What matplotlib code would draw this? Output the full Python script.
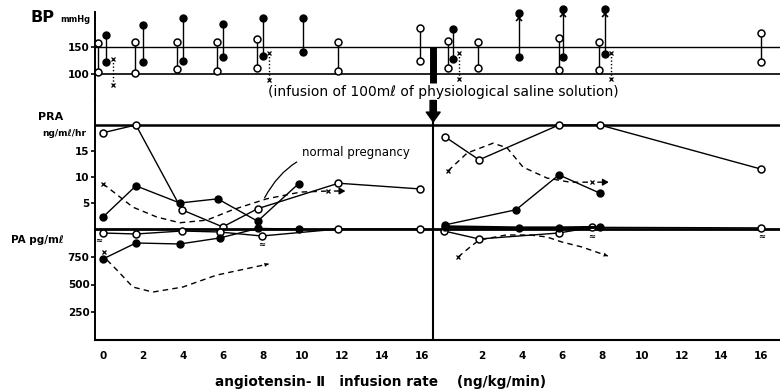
'''
Recreation of a scanned figure: BP, PRA and PA during angiotensin-II infusion,
before and after a saline infusion.
'''

import matplotlib
matplotlib.use('Agg')
import matplotlib.pyplot as plt

## the post-saline segment is drawn on the same x axis, shifted right
RIGHT_OFFSET = 17.0
DIVIDER      = 16.55

## ---------------- BP (mmHg): upper / lower reading per step ----------------
bp_open_l_x   = [-0.25, 1.6, 3.7, 5.7, 7.7, 11.8, 15.9]
bp_open_l_hi  = [157, 159, 159, 159, 165, 159, 185]
bp_open_l_lo  = [104, 102, 109, 106, 111, 106, 124]
bp_fill_l_x   = [0.15, 2.0, 4.0, 6.0, 8.0, 10.0]
bp_fill_l_hi  = [172, 191, 204, 193, 204, 204]
bp_fill_l_lo  = [122, 122, 124, 131, 133, 141]
bp_cross_l_x  = [0.5, 8.3]
bp_cross_l_hi = [128, 139]
bp_cross_l_lo = [80, 89]

bp_open_r_x   = [0.3, 1.8, 5.85, 7.85, 16.0]
bp_open_r_hi  = [161, 159, 167, 159, 176]
bp_open_r_lo  = [111, 111, 107, 107, 122]
bp_fill_r_x   = [0.55, 3.85, 6.05, 8.15]
bp_fill_r_hi  = [183, 213, 220, 220]
bp_fill_r_lo  = [128, 131, 131, 137]
bp_cross_r_x  = [0.85, 8.45]
bp_cross_r_hi = [139, 139]
bp_cross_r_lo = [90, 90]

## ---------------- PRA (ng/ml/hr) ----------------
pra_open_l_x  = [0.0, 1.65, 3.95, 6.0, 7.75, 11.8, 15.9]
pra_open_l_y  = [18.5, 20.0, 3.7, 0.4, 3.9, 8.8, 7.7]
pra_fill_l_x  = [0.0, 1.65, 3.85, 5.75, 7.75, 9.8]
pra_fill_l_y  = [2.3, 8.3, 5.0, 5.8, 1.5, 8.7]
pra_dash_l_x  = [0.0, 1.5, 2.7, 3.85, 5.2, 6.5, 8.2, 9.9, 11.3]
pra_dash_l_y  = [8.7, 4.2, 2.3, 1.2, 1.7, 3.7, 5.8, 7.1, 7.3]

pra_open_r_x  = [0.15, 1.85, 5.85, 7.9, 16.0]
pra_open_r_y  = [17.7, 13.3, 20.0, 20.0, 11.5]
pra_fill_r_x  = [0.15, 3.7, 5.85, 7.9]
pra_fill_r_y  = [0.8, 3.7, 10.4, 6.9]
pra_dash_r_x  = [0.3, 1.25, 2.55, 3.25, 4.05, 5.25, 6.4, 7.5]
pra_dash_r_y  = [11.2, 14.6, 16.5, 15.6, 11.9, 9.8, 9.0, 9.0]

## ---------------- PA (pg/ml) ----------------
pa_open_l_x   = [0.0, 1.65, 3.95, 5.85, 7.95, 11.8, 15.9]
pa_open_l_y   = [964, 955, 982, 973, 937, 1000, 1000]
pa_fill_l_x   = [0.0, 1.65, 3.85, 5.85, 7.75, 9.8]
pa_fill_l_y   = [730, 874, 865, 919, 1005, 1000]
pa_dash_l_x   = [0.05, 0.2, 0.7, 1.5, 2.5, 4.0, 5.7, 8.3]
pa_dash_l_y   = [793, 721, 630, 477, 432, 477, 585, 685]

pa_open_r_x   = [0.1, 1.85, 5.85, 7.5, 16.0]
pa_open_r_y   = [982, 910, 964, 1015, 1010]
pa_fill_r_x   = [0.15, 3.85, 5.85, 7.9]
pa_fill_r_y   = [1020, 1010, 1010, 1015]
pa_dash_r_x   = [0.8, 1.4, 1.85, 3.2, 4.4, 5.25, 6.0, 7.0, 8.3]
pa_dash_r_y   = [748, 838, 900, 946, 946, 928, 883, 838, 757]

## tick labels
x_ticks_l   = [0, 2, 4, 6, 8, 10, 12, 14, 16]
x_ticks_r   = [2, 4, 6, 8, 10, 12, 14, 16]
bp_ticks    = [100, 150]
pra_ticks   = [5, 10, 15]
pa_ticks    = [250, 500, 750]


def shift(xs):
    return [x + RIGHT_OFFSET for x in xs]


OPEN  = dict(marker='o', ms=5, mfc='white', mec='black', mew=1.1, color='black', lw=1)
FILL  = dict(marker='o', ms=5, mfc='black', mec='black', color='black', lw=1)
CROSS = dict(marker='x', ms=3.5, mew=0.9, color='black', lw=1, ls=(0, (1, 1.5)))


def bp_pairs(ax, xs, hi, lo, style):
    for x, h, l in zip(xs, hi, lo):
        ax.plot([x, x], [h, l], clip_on=False, zorder=3, **style)


def style_axis(ax, ticks, bottom=False):
    for s in ['top', 'right']:
        ax.spines[s].set_visible(False)
    ax.spines['bottom'].set_visible(bottom)
    ax.spines['left'].set_linewidth(1.4)
    ax.set_yticks(ticks)
    ax.set_yticklabels([str(t) for t in ticks], fontweight='bold')
    ax.tick_params(axis='y', direction='out', length=3, width=1.2, labelsize=7.5, pad=1)
    ax.set_xlim(-0.4, 33.93)


fig = plt.figure(figsize=(7.8, 3.92), dpi=100)
L, W = 95 / 780, 685 / 780
ax_bp  = fig.add_axes([L, 292 / 392, W, 92 / 392])
ax_pra = fig.add_axes([L, 163 / 392, W, 129 / 392])
ax_pa  = fig.add_axes([L, 52 / 392, W, 111 / 392])

## ---- BP panel ----
ax_bp.set_ylim(51.9, 222.2)
style_axis(ax_bp, bp_ticks)
ax_bp.spines['left'].set_bounds(51.9, 215)
ax_bp.set_xticks([])
ax_bp.axhline(150, color='black', lw=1)
ax_bp.axhline(100, color='black', lw=1.2)
bp_pairs(ax_bp, bp_open_l_x, bp_open_l_hi, bp_open_l_lo, OPEN)
bp_pairs(ax_bp, bp_fill_l_x, bp_fill_l_hi, bp_fill_l_lo, FILL)
bp_pairs(ax_bp, bp_cross_l_x, bp_cross_l_hi, bp_cross_l_lo, CROSS)
bp_pairs(ax_bp, shift(bp_open_r_x), bp_open_r_hi, bp_open_r_lo, OPEN)
bp_pairs(ax_bp, shift(bp_fill_r_x), bp_fill_r_hi, bp_fill_r_lo, FILL)
bp_pairs(ax_bp, shift(bp_cross_r_x), bp_cross_r_hi, bp_cross_r_lo, CROSS)
## small crosses just under the highest readings on the right
ax_bp.plot(shift(bp_fill_r_x[1:]), [h - 9 for h in bp_fill_r_hi[1:]], ls='none',
           marker='x', ms=4, mew=1.2, color='black', zorder=4)
ax_bp.plot([DIVIDER, DIVIDER], [150, 83], color='black', lw=5, solid_capstyle='butt')
ax_bp.text(8.27, 66.7, '(infusion of 100m\u2113 of physiological saline solution)',
           fontsize=10, va='center', ha='left')

## ---- PRA panel ----
ax_pra.set_ylim(0, 24.8)
style_axis(ax_pra, pra_ticks)
ax_pra.set_xticks([])
ax_pra.axhline(20, color='black', lw=1.8)
ax_pra.axvline(DIVIDER, ymax=0.845, color='black', lw=1.5)
ax_pra.annotate('', xy=(DIVIDER, 20.6), xytext=(DIVIDER, 24.7),
                arrowprops=dict(arrowstyle='simple,head_length=0.7,head_width=1.0,tail_width=0.45',
                                color='black', shrinkA=0, shrinkB=0))
ax_pra.plot(pra_open_l_x, pra_open_l_y, zorder=3, **OPEN)
ax_pra.plot(pra_fill_l_x, pra_fill_l_y, zorder=3, **FILL)
ax_pra.plot(pra_dash_l_x, pra_dash_l_y, color='black', lw=1, ls=(0, (4, 3)))
ax_pra.plot([pra_dash_l_x[0], pra_dash_l_x[-1]], [pra_dash_l_y[0], pra_dash_l_y[-1]],
            ls='none', marker='x', ms=3.5, mew=0.9, color='black')
ax_pra.plot(shift(pra_open_r_x), pra_open_r_y, zorder=3, **OPEN)
ax_pra.plot(shift(pra_fill_r_x), pra_fill_r_y, zorder=3, **FILL)
ax_pra.plot(shift(pra_dash_r_x), pra_dash_r_y, color='black', lw=1, ls=(0, (4, 3)))
ax_pra.plot(shift([pra_dash_r_x[0], pra_dash_r_x[-1]]), [pra_dash_r_y[0], pra_dash_r_y[-1]],
            ls='none', marker='x', ms=3.5, mew=0.9, color='black')
## small arrows after the last cross
for x0, y0 in [(pra_dash_l_x[-1], pra_dash_l_y[-1]),
               (pra_dash_r_x[-1] + RIGHT_OFFSET, pra_dash_r_y[-1])]:
    ax_pra.annotate('', xy=(x0 + 0.85, y0), xytext=(x0 + 0.3, y0),
                    arrowprops=dict(arrowstyle='-|>,head_length=0.35,head_width=0.2',
                                    color='black', lw=1, shrinkA=0, shrinkB=0))
ax_pra.annotate('normal pregnancy', xy=(8.1, 6.0), xytext=(9.97, 14.8),
                fontsize=8.5, va='center', ha='left',
                arrowprops=dict(arrowstyle='-', color='black', lw=0.9,
                                connectionstyle='arc3,rad=0.35', shrinkA=2, shrinkB=0))

## ---- PA panel ----
ax_pa.set_ylim(0, 1000)
style_axis(ax_pa, pa_ticks, bottom=True)
ax_pa.spines['bottom'].set_linewidth(1.5)
ax_pa.axhline(1000, color='black', lw=2, clip_on=False)
ax_pa.axvline(DIVIDER, color='black', lw=1.5)
ax_pa.plot(pa_open_l_x, pa_open_l_y, zorder=3, clip_on=False, **OPEN)
ax_pa.plot(pa_fill_l_x, pa_fill_l_y, zorder=3, clip_on=False, **FILL)
ax_pa.plot(pa_dash_l_x[1:], pa_dash_l_y[1:], color='black', lw=1, ls=(0, (4, 3)))
ax_pa.plot(pa_dash_l_x[0], pa_dash_l_y[0], marker='x', ms=3.5, mew=0.9, color='black')
ax_pa.plot(shift(pa_open_r_x), pa_open_r_y, zorder=3, clip_on=False, **OPEN)
ax_pa.plot(shift(pa_fill_r_x), pa_fill_r_y, zorder=3, clip_on=False, color='black',
           lw=2.2, marker='o', ms=5)
ax_pa.plot(shift(pa_dash_r_x), pa_dash_r_y, color='black', lw=1, ls=(0, (4, 3)))
ax_pa.plot(pa_dash_r_x[0] + RIGHT_OFFSET, pa_dash_r_y[0], marker='x', ms=3.5, mew=0.9, color='black')
## arrow heads at the end of the dashed PA curves
for xs, ys in [(pa_dash_l_x, pa_dash_l_y), (shift(pa_dash_r_x), pa_dash_r_y)]:
    ax_pa.annotate('', xy=(xs[-1], ys[-1]), xytext=(xs[-2], ys[-2]),
                   arrowprops=dict(arrowstyle='-|>,head_length=0.3,head_width=0.15',
                                   color='black', lw=0, shrinkA=0, shrinkB=0))
## "approx." marks under some readings
for x0, y0 in [(-0.2, 900), (7.95, 860), (7.5 + RIGHT_OFFSET, 935), (16.0 + RIGHT_OFFSET, 930)]:
    ax_pa.text(x0, y0, '\u2248', fontsize=6, ha='center', va='center', fontweight='bold')

ax_pa.set_xticks(x_ticks_l + shift(x_ticks_r))
ax_pa.set_xticklabels([str(t) for t in x_ticks_l + x_ticks_r], fontweight='bold')
ax_pa.tick_params(axis='x', length=0, labelsize=7.5, pad=8)

## panel labels
fig.text(30 / 780, 1 - 18 / 392, 'BP', fontsize=11.5, fontweight='bold', va='center')
fig.text(60 / 780, 1 - 19 / 392, 'mmHg', fontsize=6, fontweight='bold', va='center')
fig.text(38 / 780, 1 - 117 / 392, 'PRA', fontsize=8, fontweight='bold', va='center')
fig.text(42 / 780, 1 - 134 / 392, 'ng/m\u2113/hr', fontsize=6.5, fontweight='bold', va='center')
fig.text(11 / 780, 1 - 240 / 392, 'PA pg/m\u2113', fontsize=7.5, fontweight='bold', va='center')
fig.text(215 / 780, 1 - 382 / 392, 'angiotensin- \u2161   infusion rate    (ng/kg/min)',
         fontsize=9.8, fontweight='bold', va='center', ha='left')

fig.savefig('out.png', dpi=100)
